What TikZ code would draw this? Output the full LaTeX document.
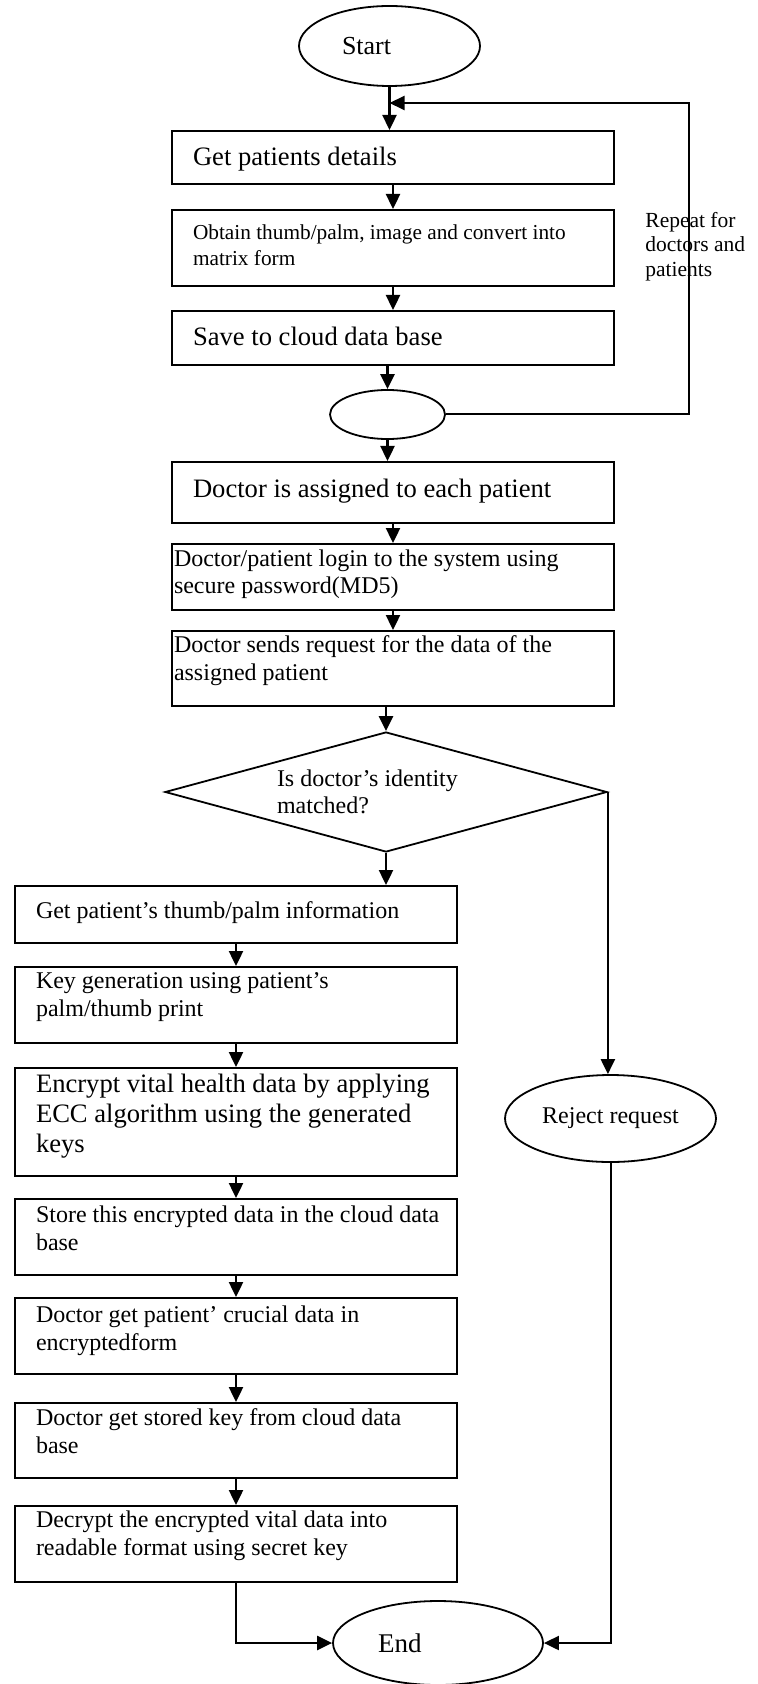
\documentclass[tikz,border=0pt]{standalone}
\usepackage{fontspec}
\setmainfont{Liberation Serif}
\usetikzlibrary{shapes.geometric,arrows.meta}

\tikzset{
  box/.style={draw, line width=0.9pt, rectangle, anchor=north, inner xsep=10.5pt, inner ysep=0pt,
    text width=200pt, align=flush left, font=\fontsize{12}{14}\selectfont},
  big/.style={font=\fontsize{13.3}{15}\selectfont},
  term/.style={draw, ellipse, line width=0.9pt, inner sep=0pt},
  flow/.style={-{Triangle[length=7.5pt,width=7pt]}, line width=1.2pt},
}

\begin{document}
\begin{tikzpicture}[x=1pt,y=-1pt]
  \useasboundingbox (0,0) rectangle (379,842);
  \path
    (194.75,23) node[term, minimum width=90.5pt, minimum height=40pt, text width=47.5pt, align=flush left,
      font=\fontsize{13}{15}\selectfont] (start) {Start}
    (196.5,65) node[box, big, text height=17.5pt, text depth=9pt] (b1) {Get patients details}
    (196.5,104.5) node[box, font=\fontsize{10.65}{13}\selectfont, text height=15pt, text depth=23pt] (b2)
      {Obtain thumb/palm, image and convert into\\matrix form}
    (196.5,155) node[box, big, text height=17.5pt, text depth=9.5pt] (b3) {Save to cloud data base}
    (193.75,207.25) node[term, minimum width=57.5pt, minimum height=24.5pt] (mid) {}
    (196.5,230.5) node[box, big, text height=18pt, text depth=12.5pt] (b4) {Doctor is assigned to each patient}
    (196.5,271.5) node[box, inner xsep=1pt, text width=219pt, font=\fontsize{12}{13.5}\selectfont,
      text height=11.5pt, text depth=21.5pt] (b5) {Doctor/patient login to the system using\\secure password(MD5)}
    (196.5,315) node[box, inner xsep=1pt, text width=219pt, text height=11pt, text depth=26.5pt] (b6)
      {Doctor sends request for the data of the\\assigned patient}
    (193,396) node[draw, diamond, line width=0.9pt, aspect=3.68, minimum width=221pt, minimum height=60pt,
      inner sep=0pt, text width=109pt, align=flush left, font=\fontsize{12}{13.5}\selectfont] (dia)
      {Is doctor’s identity\\matched?}
    (118,442.5) node[box, text height=16.5pt, text depth=12pt] (b7) {Get patient’s thumb/palm information}
    (118,483) node[box, text height=11pt, text depth=27pt] (b8) {Key generation using patient’s\\palm/thumb print}
    (118,533.5) node[box, big, text height=12.5pt, text depth=41.5pt] (b9)
      {\mbox{Encrypt vital health data by applying}\\ECC algorithm using the generated\\keys}
    (118,599) node[box, text height=12pt, text depth=26pt] (b10)
      {\mbox{Store this encrypted data in the cloud data}\\base}
    (118,648.5) node[box, text height=12.5pt, text depth=25.5pt] (b11) {Doctor get patient’ crucial data in\\encryptedform}
    (118,701) node[box, text height=11.5pt, text depth=26pt] (b12) {Doctor get stored key from cloud data\\base}
    (118,752.5) node[box, text height=11pt, text depth=27pt] (b13)
      {Decrypt the encrypted vital data into\\readable format using secret key}
    (305.25,559.25) node[term, minimum width=105.5pt, minimum height=43.5pt, font=\fontsize{12}{14}\selectfont] (rej)
      {Reject request}
    (219,821.5) node[term, minimum width=105pt, minimum height=42pt, text width=60pt, align=flush left,
      font=\fontsize{13.5}{15}\selectfont] (stop) {End}
    (322.5,123.25) node[anchor=west, align=left, inner sep=0pt, font=\fontsize{10.75}{12.25}\selectfont] (note)
      {Repeat for\\doctors and\\patients};
  \coordinate (join) at (194.75,51.5);
  \coordinate (loopx) at (344.5,207.25);
  \begin{scope}[flow]
    \draw (start.south) -- (start.south |- b1.north);
    \draw (b1) -- (b2);
    \draw (b2) -- (b3);
    \draw (b3.south -| mid) -- (mid.north);
    \draw (mid.south) -- (mid.south |- b4.north);
    \draw (b4) -- (b5);
    \draw (b5) -- (b6);
    \draw (b6.south -| dia.north) -- (dia.north);
    \draw (dia.south) -- (dia.south |- b7.north);
    \draw (dia.east) -- (dia.east |- rej.north);
    \draw (b7) -- (b8);
    \draw (b8) -- (b9);
    \draw (b9) -- (b10);
    \draw (b10) -- (b11);
    \draw (b11) -- (b12);
    \draw (b12) -- (b13);
    \draw (b13.south) |- (stop.west);
    \draw[line width=1pt] (rej.south) |- (stop.east);
    \draw[line width=1pt] (mid.east) -- (mid.east -| loopx) |- (join);
  \end{scope}
\end{tikzpicture}
\end{document}
